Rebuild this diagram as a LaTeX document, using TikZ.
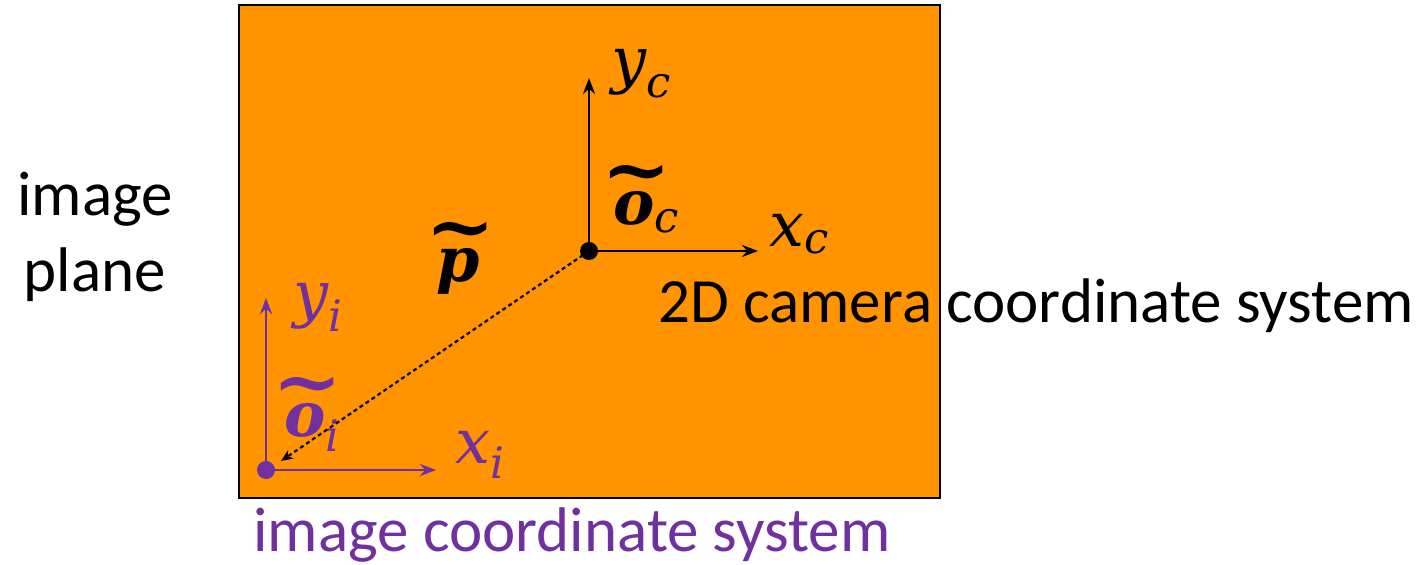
\documentclass[tikz,border=0pt]{standalone}
\usepackage{amsmath}
\usepackage{fontspec}
\setmainfont{Carlito}
\newfontfamily\dvserif{DejaVu Serif}
\usetikzlibrary{arrows.meta}
\definecolor{planeorange}{RGB}{255,147,0}
\definecolor{imgpurple}{RGB}{112,48,160}
\newcommand\mvar[1]{\text{\dvserif\itshape #1}}
\newcommand\mvec[1]{\text{\ooalign{\hidewidth\kern0.08em\raisebox{0.48em}{\scalebox{1.35}[1.2]{\dvserif\bfseries\char`\~}}\hidewidth\cr\dvserif\bfseries\itshape #1\cr}}}
\tikzset{
  axis/.style={line width=1.4pt,-{Stealth[length=8pt,width=6pt]}},
  lbl/.style={font=\fontsize{31.5}{38}\selectfont, inner sep=0pt},
  mlbl/.style={font=\fontsize{31}{36}\selectfont, inner sep=0pt},
}
\begin{document}
\begin{tikzpicture}[x=0.5pt,y=-0.5pt]
\useasboundingbox (0,0) rectangle (1422,565);
\draw[line width=1.4pt, fill=planeorange] (239,5) rectangle (940,498);
% camera system
\coordinate (oc) at (589,251);
\coordinate (yc) at (589,78);
\coordinate (xc) at (758,251);
\draw[axis] (oc) -- (yc);
\draw[axis] (oc) -- (xc);
\node[mlbl] (ylc) at (642,74) {$\mvar{y}_{\mvar{c}}$};
\node[mlbl, anchor=base west] (olc) at (613,225) {$\mvec{o}_{\mvar{c}}$};
\node[mlbl] (xlc) at (800,234) {$\mvar{x}_{\mvar{c}}$};
\node[mlbl, anchor=base west] (pl) at (436,282) {$\mvec{p}$};
% image system
\coordinate (oi) at (266,470);
\coordinate (yi) at (266,298);
\coordinate (xi) at (436,470);
\draw[axis, imgpurple] (oi) -- (yi);
\draw[axis, imgpurple] (oi) -- (xi);
\node[mlbl, text=imgpurple] (yli) at (318,307) {$\mvar{y}_{\mvar{i}}$};
\node[mlbl, text=imgpurple, anchor=base west] (oli) at (284,437) {$\mvec{o}_{\mvar{i}}$};
\node[mlbl, text=imgpurple] (xli) at (480,455) {$\mvar{x}_{\mvar{i}}$};
% dotted vector
\coordinate (pend) at (281,461);
\draw[line width=1.1pt, dash pattern=on 2pt off 1.6pt, -{Stealth[length=6pt,width=5pt]}] (oc) -- (pend);
\fill (oc) circle (4.5pt);
\fill[imgpurple] (oi) circle (4.5pt);
% texts
\node[lbl, align=center] (plane) at (95,237) {image\\plane};
\node[lbl] (cam) at (1036,306) {2D camera coordinate system};
\node[lbl, text=imgpurple] (img) at (572,535) {image coordinate system};
\end{tikzpicture}
\end{document}
